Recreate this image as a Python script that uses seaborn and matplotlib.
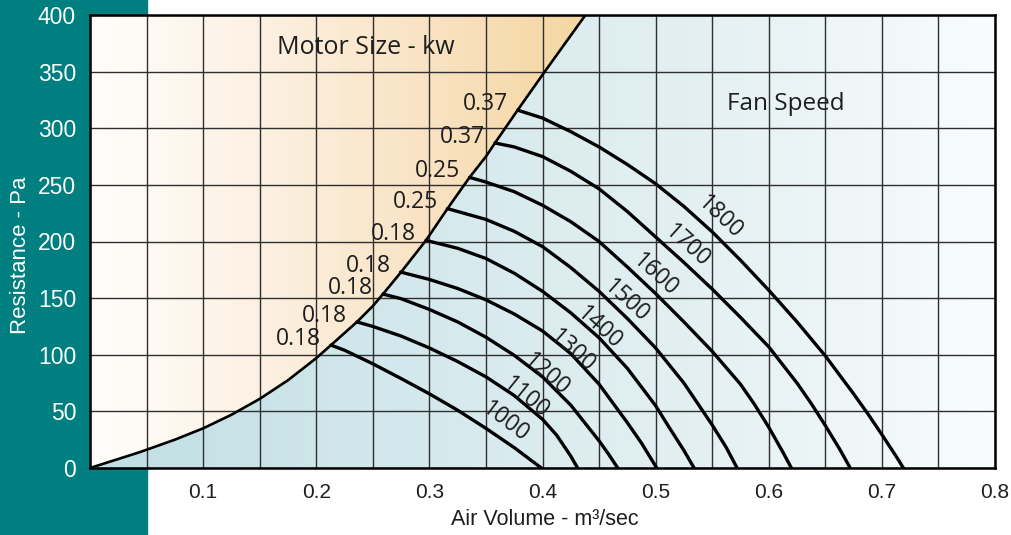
import numpy as np
import pandas as pd
import matplotlib
matplotlib.use("Agg")
import matplotlib.pyplot as plt
from matplotlib import font_manager
from matplotlib.colors import LinearSegmentedColormap
from matplotlib.patches import Polygon, Rectangle
import seaborn as sns

# motor size boundary (air volume m3/s, resistance Pa)
boundary_q = [0.0, 0.044, 0.075, 0.10, 0.125, 0.15, 0.175, 0.20, 0.213, 0.236, 0.25, 0.259,
              0.275, 0.297, 0.316, 0.3355, 0.35, 0.358, 0.367, 0.378, 0.402, 0.438]
boundary_p = [0, 14, 25, 35, 47, 61, 77.5, 97, 108.5, 129, 143, 153.6,
              173, 201, 229, 256.6, 275, 287, 300, 316, 350, 400]

# fan speed curves (rpm)
speeds = [1000, 1100, 1200, 1300, 1400, 1500, 1600, 1700, 1800]
q_1000 = [0.213, 0.225, 0.25, 0.275, 0.30, 0.325, 0.35, 0.375, 0.399]
p_1000 = [108.5, 104, 92, 79, 65.5, 51, 35, 18, 0]
q_1100 = [0.236, 0.25, 0.275, 0.30, 0.325, 0.35, 0.375, 0.40, 0.4125, 0.425, 0.431]
p_1100 = [129, 125, 116.5, 106, 94, 80.5, 64, 43, 29, 10.5, 0]
q_1200 = [0.259, 0.275, 0.30, 0.325, 0.35, 0.375, 0.40, 0.425, 0.45, 0.458, 0.4665]
p_1200 = [153.6, 149.5, 140, 129, 115.5, 99.5, 80.5, 55.5, 24, 12.8, 0]
q_1300 = [0.2746, 0.30, 0.325, 0.35, 0.375, 0.40, 0.425, 0.45, 0.475, 0.4875, 0.501]
p_1300 = [173, 166.5, 158.5, 148.5, 136, 121, 101, 74, 40, 22, 0]
q_1400 = [0.297, 0.325, 0.35, 0.375, 0.40, 0.425, 0.45, 0.475, 0.50, 0.5125, 0.525, 0.534]
p_1400 = [201, 194, 185, 172, 156, 137, 115, 88, 55, 35, 15.5, 0]
q_1500 = [0.316, 0.325, 0.35, 0.375, 0.40, 0.425, 0.45, 0.475, 0.50, 0.525, 0.55, 0.5625, 0.572]
p_1500 = [229, 226.5, 219.5, 209, 195.5, 177, 156, 132, 106, 75, 38, 18, 0]
q_1600 = [0.3355, 0.35, 0.375, 0.40, 0.425, 0.45, 0.475, 0.50, 0.525, 0.55, 0.575, 0.5875, 0.60, 0.6125, 0.62]
p_1600 = [256.6, 252.5, 244, 232, 217.5, 200, 177.5, 154, 129, 103, 74, 56, 36, 14, 0]
q_1700 = [0.358, 0.375, 0.40, 0.425, 0.45, 0.475, 0.50, 0.525, 0.55, 0.575, 0.60, 0.625, 0.6375,
          0.65, 0.6625, 0.672]
p_1700 = [287, 283.5, 275, 262, 246.5, 226.5, 204, 181.5, 158, 133, 107, 75, 57, 37.5, 17, 0]
q_1800 = [0.378, 0.40, 0.425, 0.45, 0.475, 0.50, 0.525, 0.55, 0.575, 0.60, 0.625, 0.65, 0.675,
          0.6875, 0.70, 0.7125, 0.719]
p_1800 = [316, 309, 297, 283.5, 268, 251, 231, 208.5, 183.5, 157, 129, 99, 65.5, 48, 29.5, 10.5, 0]

motor_sizes = ["0.18", "0.18", "0.18", "0.18", "0.18", "0.25", "0.25", "0.37", "0.37"]

x_ticks = [0.1, 0.2, 0.3, 0.4, 0.5, 0.6, 0.7, 0.8]
y_ticks = [0, 50, 100, 150, 200, 250, 300, 350, 400]

curves_q = [q_1000, q_1100, q_1200, q_1300, q_1400, q_1500, q_1600, q_1700, q_1800]
curves_p = [p_1000, p_1100, p_1200, p_1300, p_1400, p_1500, p_1600, p_1700, p_1800]

rows = []
for s, qs, ps in zip(speeds, curves_q, curves_p):
    for q, p in zip(qs, ps):
        rows.append({"speed": s, "q": q, "p": p})
df = pd.DataFrame(rows)

# speed label anchors (data coords) and rotation
speed_label_pos = [(0.367, 41), (0.385, 62), (0.404, 82), (0.426, 103), (0.450, 124),
                   (0.474, 147), (0.500, 170), (0.528, 196), (0.557, 221)]
speed_label_rot = [-37, -39, -41, -42, -42, -42, -42, -42, -43]

sns.set_style("white")
names = {f.name for f in font_manager.fontManager.ttflist}
axis_font = "Liberation Sans" if "Liberation Sans" in names else "DejaVu Sans"
text_font = "Open Sans" if "Open Sans" in names else "DejaVu Sans"
plt.rcParams["font.family"] = [axis_font, "DejaVu Sans"]

teal = "#007f80"
ink = "#1e1e1e"

fig = plt.figure(figsize=(10.11, 5.35), dpi=100)
fig.patches.append(Rectangle((0, 0), 147 / 1011, 1, transform=fig.transFigure,
                             color=teal, zorder=-1))
ax = fig.add_axes([90 / 1011, 1 - 468 / 535, 905 / 1011, 453 / 535])
ax.set_facecolor("white")

# gradient fills either side of the boundary
orange = LinearSegmentedColormap.from_list("o", ["#fffefc", "#fdf1e3", "#f9e3c4", "#f5d6a0"])
blue = LinearSegmentedColormap.from_list("b", ["#c0dee3", "#d3e8ec", "#e3f0f2", "#f9fcfc"])
grad = np.linspace(0, 1, 256).reshape(1, -1)

poly_top = list(zip(boundary_q, boundary_p)) + [(0, 400)]
poly_bot = list(zip(boundary_q, boundary_p)) + [(0.8, 400), (0.8, 0)]
im1 = ax.imshow(grad, cmap=orange, extent=[0, 0.44, 0, 400], aspect="auto", zorder=0.1)
p1 = Polygon(poly_top, closed=True, transform=ax.transData, facecolor="none", edgecolor="none")
ax.add_patch(p1)
im1.set_clip_path(p1)
im2 = ax.imshow(grad, cmap=blue, extent=[0, 0.8, 0, 400], aspect="auto", zorder=0.1)
p2 = Polygon(poly_bot, closed=True, transform=ax.transData, facecolor="none", edgecolor="none")
ax.add_patch(p2)
im2.set_clip_path(p2)

sns.lineplot(data=df, x="q", y="p", units="speed", estimator=None, sort=False,
             color="black", linewidth=2.4, ax=ax, zorder=3)
sns.lineplot(x=boundary_q, y=boundary_p, sort=False, color="black", linewidth=1.9,
             ax=ax, zorder=3)

for s, qs, ps, m in zip(speeds, curves_q, curves_p, motor_sizes):
    ax.annotate(m, xy=(qs[0], ps[0]), xytext=(-7, 4.5), textcoords="offset points",
                ha="right", va="center", fontsize=16.5, color=ink, family=text_font, zorder=4)

for s, (lx, ly), r in zip(speeds, speed_label_pos, speed_label_rot):
    ax.text(lx, ly, str(s), rotation=r, rotation_mode="anchor", ha="center", va="center",
            fontsize=16.5, color=ink, family=text_font, zorder=4)

ax.text(0.244, 371.5, "Motor Size - kw", ha="center", va="center", fontsize=18,
        color=ink, family=text_font, zorder=4)
ax.text(0.615, 321, "Fan Speed", ha="center", va="center", fontsize=17.5,
        color=ink, family=text_font, zorder=4)

ax.set_xlim(0, 0.8)
ax.set_ylim(0, 400)
ax.set_xticks(x_ticks)
ax.set_xticklabels([f"{v:.1f}" for v in x_ticks])
ax.set_xticks(np.arange(0, 0.801, 0.05), minor=True)
ax.set_yticks(y_ticks)
ax.set_axisbelow(True)
ax.grid(which="both", color="#2f2f2f", linewidth=1.0)
ax.tick_params(axis="both", which="both", length=0)
ax.tick_params(axis="x", colors=ink, labelsize=15, pad=11)
ax.tick_params(axis="y", colors="white", labelsize=16.5, pad=10)
for sp in ax.spines.values():
    sp.set_visible(True)
    sp.set_color("black")
    sp.set_linewidth(1.8)
    sp.set_zorder(5)

ax.set_xlabel("Air Volume - m³/sec", fontsize=15.5, color=ink)
ax.set_ylabel("Resistance - Pa", fontsize=16, color="white")
ax.xaxis.set_label_coords(0.503, -0.09)
ax.yaxis.set_label_coords(-0.0656, 0.47)

fig.savefig("out.png", dpi=100)
